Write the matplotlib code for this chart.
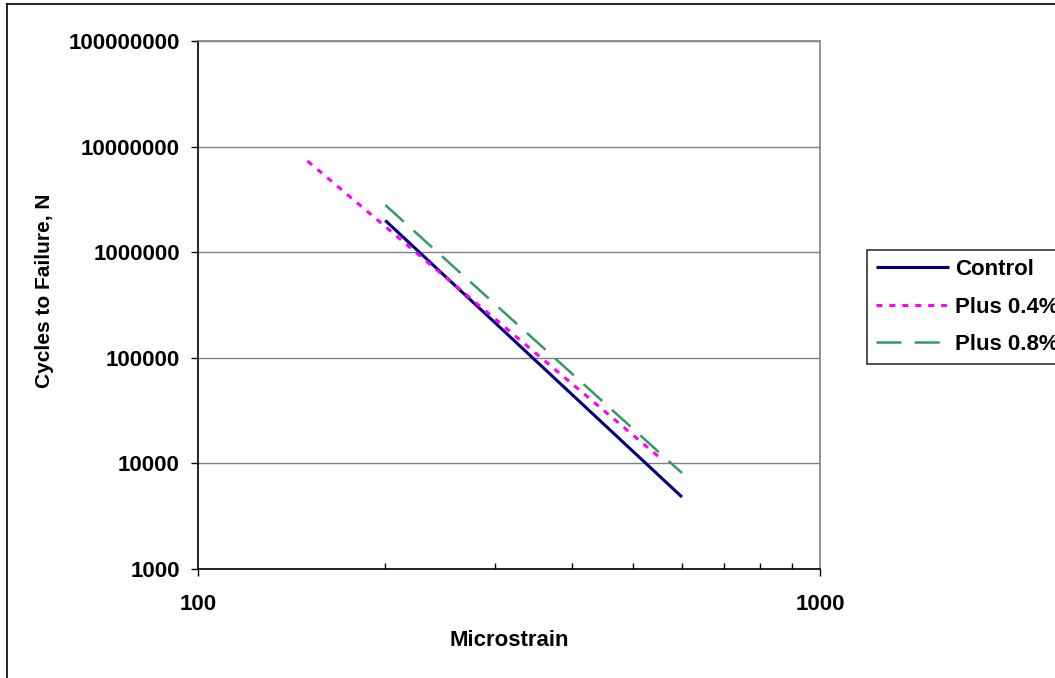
import matplotlib
matplotlib.use("Agg")
import matplotlib.pyplot as plt
from matplotlib.lines import Line2D
from matplotlib.ticker import FixedLocator, NullFormatter, NullLocator

# Data (microstrain vs cycles to failure)
control_strain = [200, 600]
control_cycles = [2000000, 4800]

plus04_strain = [150, 550]
plus04_cycles = [7300000, 11600]

plus08_strain = [200, 600]
plus08_cycles = [2800000, 8100]

x_ticks = [100, 1000]
x_tick_labels = ["100", "1000"]
y_ticks = [1000, 10000, 100000, 1000000, 10000000, 100000000]
y_tick_labels = ["1000", "10000", "100000", "1000000", "10000000", "100000000"]

plt.rcParams['font.family'] = ['Liberation Sans', 'DejaVu Sans']
plt.rcParams['font.weight'] = 'bold'
plt.rcParams['lines.scale_dashes'] = False

W, H = 1055, 678
fig = plt.figure(figsize=(W / 100, H / 100), dpi=100)
ax = fig.add_axes([198 / W, 1 - 569 / H, (820 - 198) / W, (569 - 41) / H])

ax.plot(control_strain, control_cycles, color='#000080', lw=2.2,
        solid_capstyle='butt', label='Control')
ax.plot(plus04_strain, plus04_cycles, color='#FF00FF', lw=2.2,
        dashes=(4.3, 5.0), label='Plus 0.4%')
ax.plot(plus08_strain, plus08_cycles, color='#339966', lw=1.8,
        dashes=(18, 9.5), label='Plus 0.8%')

ax.set_xscale('log')
ax.set_yscale('log')
ax.set_xlim(100, 1000)
ax.set_ylim(1000, 100000000)

# ticks
ax.xaxis.set_major_locator(FixedLocator(x_ticks))
ax.set_xticklabels(x_tick_labels)
ax.xaxis.set_minor_locator(FixedLocator([200, 300, 400, 500, 600, 700, 800, 900]))
ax.xaxis.set_minor_formatter(NullFormatter())
ax.yaxis.set_major_locator(FixedLocator(y_ticks))
ax.set_yticklabels(y_tick_labels)
ax.yaxis.set_minor_locator(NullLocator())

ax.tick_params(axis='x', which='major', direction='out', length=5, width=1,
               pad=13, labelsize=16)
ax.tick_params(axis='x', which='minor', direction='in', length=4, width=1)
ax.tick_params(axis='y', which='major', direction='out', length=5, width=1,
               pad=8, labelsize=16)

ax.grid(axis='y', which='major', color='#808080', lw=1)
ax.set_axisbelow(True)
for side in ['top', 'right']:
    ax.spines[side].set_color('#808080')
    ax.spines[side].set_linewidth(1.2)
for side in ['left', 'bottom']:
    ax.spines[side].set_color('black')
    ax.spines[side].set_linewidth(1.2)

ax.set_xlabel("Microstrain", fontsize=16, fontweight='bold')
ax.xaxis.set_label_coords(0.5, -(641 - 569) / 528)
ax.set_ylabel("Cycles to Failure, N", fontsize=15, fontweight='bold')
ax.yaxis.set_label_coords(-(198 - 45) / 622, (569 - 291) / 528)
ax.xaxis.label.set_va('center')
ax.yaxis.label.set_va('center')

leg = ax.legend(loc='upper left', bbox_to_anchor=(867 / W, 1 - 250 / H),
                bbox_transform=fig.transFigure, frameon=True, fancybox=False,
                edgecolor='black', fontsize=16, handlelength=3.3,
                handletextpad=0.25, borderpad=0.4, labelspacing=0.75,
                borderaxespad=0)
leg.get_frame().set_linewidth(1.2)
for t in leg.get_texts():
    t.set_fontweight('bold')

# outer chart border (right and bottom edges fall outside the image)
fig.add_artist(Line2D([7 / W, 7 / W], [0, 1 - 4 / H], color='black', lw=1.2))
fig.add_artist(Line2D([7 / W, 1], [1 - 4 / H, 1 - 4 / H], color='black', lw=1.2))

fig.savefig("out.png", dpi=100)
